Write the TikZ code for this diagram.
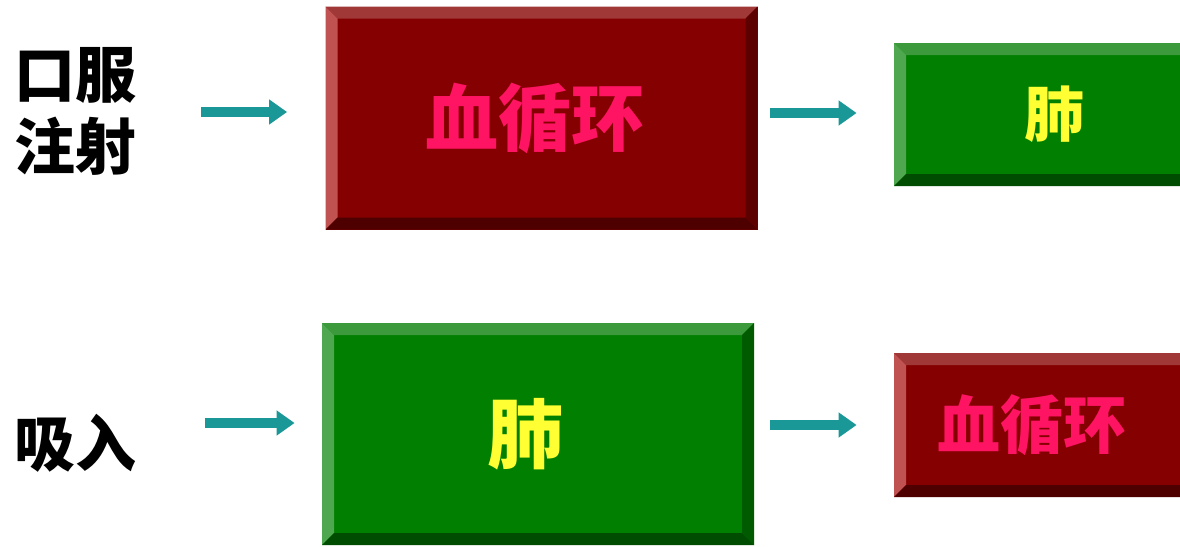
\documentclass[tikz,border=0pt]{standalone}
\usepackage{fontspec}
\newfontfamily\cjk{Noto Sans CJK SC}
\usepackage{tikz}
\usetikzlibrary{arrows.meta}

\definecolor{redfill}{HTML}{850000}
\definecolor{redtop}{HTML}{A03838}
\definecolor{redleft}{HTML}{C05252}
\definecolor{redright}{HTML}{5C0000}
\definecolor{redbottom}{HTML}{4E0000}
\definecolor{redtext}{HTML}{FF1464}
\definecolor{greenfill}{HTML}{007F00}
\definecolor{greentop}{HTML}{3C9A3C}
\definecolor{greenleft}{HTML}{4FA84F}
\definecolor{greenright}{HTML}{005A00}
\definecolor{greenbottom}{HTML}{004C00}
\definecolor{greentext}{HTML}{FFFF33}
\definecolor{arrowteal}{HTML}{1A9898}

\tikzset{
	bevel/.style n args={5}{
		fill=#1, inner sep=0pt,
		path picture={
			\fill[#2] (path picture bounding box.north west) -- (path picture bounding box.north east)
				-- ([shift={(-6pt,-6pt)}]path picture bounding box.north east) -- ([shift={(6pt,-6pt)}]path picture bounding box.north west) -- cycle;
			\fill[#3] (path picture bounding box.north west) -- (path picture bounding box.south west)
				-- ([shift={(6pt,6pt)}]path picture bounding box.south west) -- ([shift={(6pt,-6pt)}]path picture bounding box.north west) -- cycle;
			\fill[#4] (path picture bounding box.north east) -- (path picture bounding box.south east)
				-- ([shift={(-6pt,6pt)}]path picture bounding box.south east) -- ([shift={(-6pt,-6pt)}]path picture bounding box.north east) -- cycle;
			\fill[#5] (path picture bounding box.south west) -- (path picture bounding box.south east)
				-- ([shift={(-6pt,6pt)}]path picture bounding box.south east) -- ([shift={(6pt,6pt)}]path picture bounding box.south west) -- cycle;
		}
	},
	redbox/.style={bevel={redfill}{redtop}{redleft}{redright}{redbottom}, text=redtext},
	greenbox/.style={bevel={greenfill}{greentop}{greenleft}{greenright}{greenbottom}, text=greentext},
}

\begin{document}
\begin{tikzpicture}[x=0.5pt, y=-0.5pt,
	lbl/.style={inner sep=0pt, align=left, font=\cjk\bfseries\fontsize{30.5}{36}\selectfont},
	flow/.style={draw=arrowteal, line width=5pt, -{Triangle[length=9pt, width=12pt]}}]
	\useasboundingbox (0,0) rectangle (1180,547);
	\fill[white] (0,0) rectangle (1180,547);
	\clip (0,0) rectangle (1180,547);
	
	% top row
	\node[lbl] (oral) at (76,111) {口服\\注射};
	\node[redbox, minimum width=216pt, minimum height=111.5pt, font=\cjk\bfseries\fontsize{36.5}{40}\selectfont] (blood1) at (541.5,118) {\hspace*{-7pt}血循环};
	\node[greenbox, minimum width=160pt, minimum height=71.5pt, font=\cjk\bfseries\fontsize{30}{34}\selectfont] (lung1) at (1054,114.5) {肺};
	
	% bottom row
	\node[lbl] (inhale) at (76,443) {吸入};
	\node[greenbox, minimum width=216pt, minimum height=111pt, font=\cjk\bfseries\fontsize{38}{42}\selectfont] (lung2) at (538,434) {\hspace*{-13pt}肺};
	\node[redbox, minimum width=160pt, minimum height=72pt, font=\cjk\bfseries\fontsize{31.5}{35}\selectfont] (blood2) at (1054,425) {\hspace*{-22pt}血循环};
	
	\draw[flow] ([xshift=-62pt,yshift=-0.5pt]oral.east -| blood1.west) -- ([xshift=-19pt,yshift=-0.5pt]oral.east -| blood1.west);
	\draw[flow] ([xshift=6pt,yshift=0.75pt]blood1.east |- lung1.west) -- ([xshift=-18.5pt,yshift=0.75pt]lung1.west);
	\draw[flow] ([xshift=-58.5pt,yshift=10pt]inhale.east -| lung2.west) -- ([xshift=-13.5pt,yshift=10pt]inhale.east -| lung2.west);
	\draw[flow] ([xshift=8pt]lung2.east |- blood2.west) -- ([xshift=-18.5pt]blood2.west);
\end{tikzpicture}
\end{document}
